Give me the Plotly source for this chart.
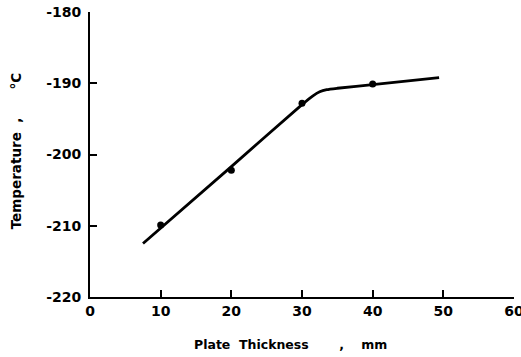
import plotly.graph_objects as go

# Measured points: plate thickness (mm) vs temperature (°C)
thickness = [10, 20, 30, 40]
temperature = [-209.9, -202.2, -192.8, -190.1]

# Fitted curve drawn through the data
curve_x = [7.5, 20, 30, 31.5, 32.5, 33.5, 35, 40, 49.4]
curve_y = [-212.5, -201.7, -193.0, -191.8, -191.2, -190.9, -190.7, -190.2, -189.2]

x_ticks = [0, 10, 20, 30, 40, 50, 60]
x_tick_text = ["0", "10", "20", "30", "40", "50", "60"]
y_ticks = [-220, -210, -200, -190, -180]
y_tick_text = ["-220", "-210", "-200", "-190", "-180"]

x_title = "Plate  Thickness       ,    mm"
y_title = "Temperature  ,      °C"

fig = go.Figure()
fig.add_trace(go.Scatter(
    x=curve_x, y=curve_y, mode="lines",
    line=dict(color="black", width=2.8, shape="spline", smoothing=0.6),
    showlegend=False, hoverinfo="skip",
))
fig.add_trace(go.Scatter(
    x=thickness, y=temperature, mode="markers",
    marker=dict(color="black", size=7),
    showlegend=False,
))

tick_font = dict(family="DejaVu Sans", size=14, color="black", weight="bold")

fig.update_layout(
    width=521, height=357,
    margin=dict(l=90, r=7, t=12, b=60, autoexpand=False),
    paper_bgcolor="white", plot_bgcolor="white",
    font=dict(family="DejaVu Sans", color="black"),
    xaxis=dict(
        range=[0, 60], tickvals=x_ticks, ticktext=x_tick_text,
        ticks="inside", ticklen=7, tickwidth=1.5, tickcolor="black",
        showline=True, linecolor="black", linewidth=2,
        showgrid=False, zeroline=False, automargin=False,
        ticklabeloverflow="allow", tickfont=tick_font,
    ),
    yaxis=dict(
        range=[-220, -180], tickvals=y_ticks, ticktext=y_tick_text,
        ticks="inside", ticklen=7, tickwidth=1.5, tickcolor="black",
        showline=True, linecolor="black", linewidth=2,
        showgrid=False, zeroline=False, automargin=False,
        ticklabelstandoff=4, tickfont=tick_font,
    ),
    annotations=[
        dict(text=x_title, xref="paper", yref="paper", x=0.474, y=-0.168,
             xanchor="center", yanchor="middle", showarrow=False,
             font=dict(family="DejaVu Sans", size=12.5, color="black", weight="bold")),
        dict(text=y_title, xref="paper", yref="paper", x=-0.174, y=0.512,
             xanchor="center", yanchor="middle", showarrow=False, textangle=-90,
             font=dict(family="DejaVu Sans", size=13.5, color="black", weight="bold")),
    ],
)

fig.write_html("out.html")
